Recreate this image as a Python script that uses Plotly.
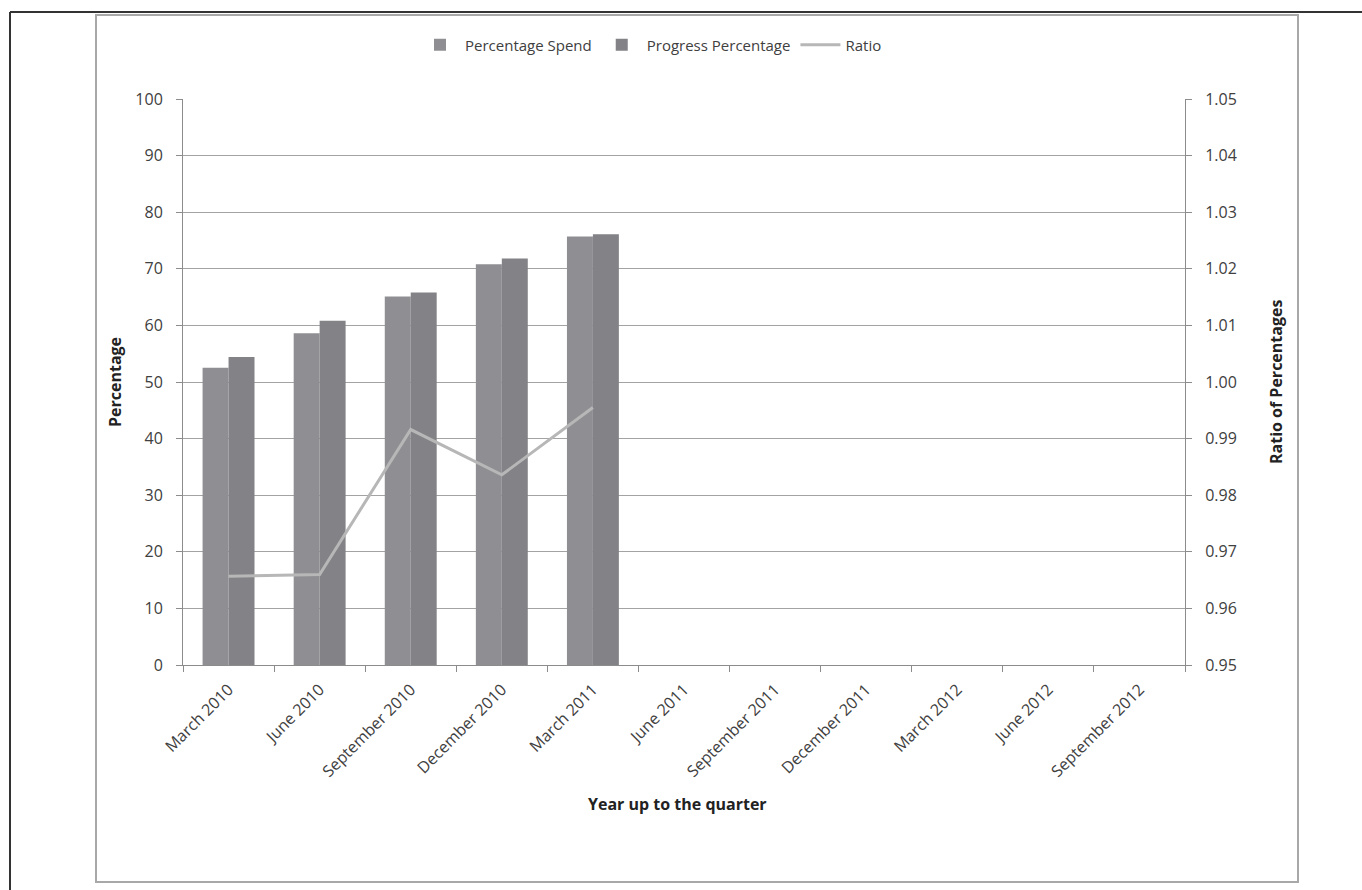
import plotly.graph_objects as go

quarters = ["March 2010", "June 2010", "September 2010", "December 2010", "March 2011",
            "June 2011", "September 2011", "December 2011", "March 2012", "June 2012",
            "September 2012"]
spend_quarters = quarters[:5]
percentage_spend = [52.5, 58.6, 65.1, 70.8, 75.7]
progress_percentage = [54.4, 60.8, 65.8, 71.8, 76.1]
ratio = [0.9657, 0.9660, 0.9916, 0.9836, 0.9955]
left_ticks = list(range(0, 101, 10))
right_ticks = [0.95, 0.96, 0.97, 0.98, 0.99, 1.00, 1.01, 1.02, 1.03, 1.04, 1.05]

W, H = 1362, 890
L, R, T, B = 183, 1185, 99, 665
FONT = "Open Sans"
TXT = "#404040"

def px(x):
    return (x - L) / (R - L)

def py(y):
    return (B - y) / (B - T)

fig = go.Figure()
fig.add_trace(go.Bar(name="Percentage Spend", x=spend_quarters, y=percentage_spend,
                     marker=dict(color="#8f8f93", line=dict(width=0))))
fig.add_trace(go.Bar(name="Progress Percentage", x=spend_quarters, y=progress_percentage,
                     marker=dict(color="#828287", line=dict(width=0))))
fig.add_trace(go.Scatter(name="Ratio", x=spend_quarters, y=ratio, yaxis="y2",
                         mode="lines", line=dict(color="#b7b7b7", width=3)))

shapes = [
    dict(type="rect", xref="paper", yref="paper", x0=px(96), x1=px(1298), y0=py(882), y1=py(15),
         line=dict(color="#a8a8a8", width=2), layer="below"),
    dict(type="line", xref="paper", yref="paper", x0=px(10), x1=px(1362), y0=py(12), y1=py(12),
         line=dict(color="#333333", width=2)),
    dict(type="line", xref="paper", yref="paper", x0=px(10), x1=px(10), y0=py(12), y1=py(890),
         line=dict(color="#333333", width=2)),
]

title_font = dict(family=FONT, size=16, color="#222222")
annotations = [
    dict(text="<b>Percentage</b>", xref="paper", yref="paper", x=px(115), y=py(382),
         xanchor="center", yanchor="middle",
         showarrow=False, textangle=-90, font=title_font),
    dict(text="<b>Ratio of Percentages</b>", xref="paper", yref="paper", x=px(1276), y=py(382),
         xanchor="center", yanchor="middle",
         showarrow=False, textangle=-90, font=title_font),
    dict(text="<b>Year up to the quarter</b>", xref="paper", yref="paper", x=px(677), y=py(804),
         xanchor="center", yanchor="middle",
         showarrow=False, font=title_font),
]

fig.update_layout(
    width=W, height=H,
    margin=dict(l=L, r=W - R, t=T, b=H - B),
    paper_bgcolor="white", plot_bgcolor="white",
    font=dict(family=FONT, size=16, color=TXT),
    barmode="group", bargap=0.43, bargroupgap=0,
    showlegend=True,
    legend=dict(orientation="h", x=px(651), xanchor="center", y=py(45), yanchor="middle",
                font=dict(family=FONT, size=15, color=TXT), traceorder="normal",
                itemwidth=40),
    xaxis=dict(type="category", categoryorder="array", categoryarray=quarters,
               tickvals=quarters, range=[-0.5, len(quarters) - 0.5],
               tickangle=-45, showgrid=False, showline=True, linecolor="#8c8c8c", linewidth=1,
               ticks="outside", tickson="boundaries", ticklen=6, tickcolor="#8c8c8c",
               ticklabelstandoff=8,
               tickfont=dict(family=FONT, size=16, color=TXT), zeroline=False),
    yaxis=dict(range=[0, 100], tickvals=left_ticks, showgrid=True, gridcolor="#a3a3a3", gridwidth=1,
               showline=True, linecolor="#8c8c8c", linewidth=1, ticks="outside", ticklen=6,
               tickcolor="#8c8c8c", zeroline=False, ticklabelstandoff=10,
               tickfont=dict(family=FONT, size=16, color=TXT)),
    yaxis2=dict(range=[0.95, 1.05], tickvals=right_ticks, tickformat=".2f", overlaying="y",
                side="right", showgrid=False, showline=True, linecolor="#8c8c8c", linewidth=1,
                ticks="outside", ticklen=6, tickcolor="#8c8c8c", zeroline=False,
                ticklabelstandoff=10,
                tickfont=dict(family=FONT, size=16, color=TXT)),
    shapes=shapes, annotations=annotations,
)

fig.write_html("out.html")
